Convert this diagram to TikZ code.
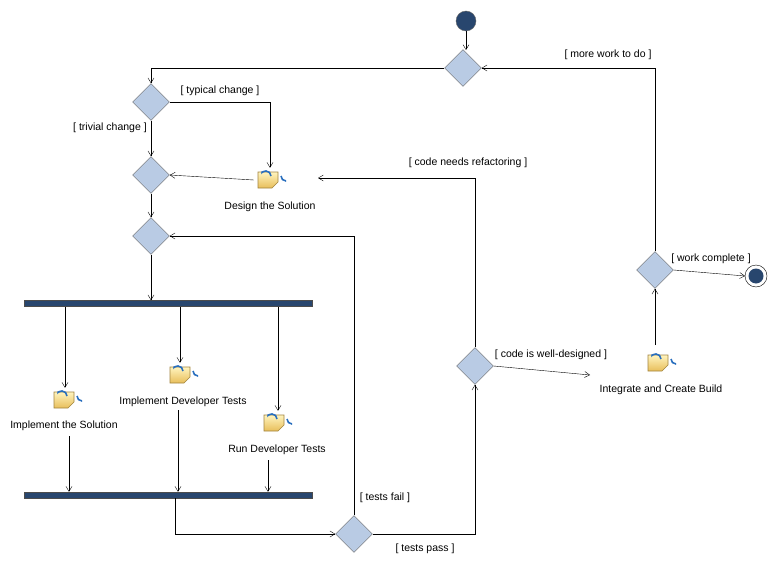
\documentclass[tikz,border=0pt]{standalone}
\usepackage{fontspec}
\setmainfont{Liberation Sans}
\usetikzlibrary{shapes.geometric,arrows.meta}
\definecolor{dfill}{RGB}{185,203,228}
\definecolor{dnavy}{RGB}{40,70,110}
\definecolor{iy1}{RGB}{255,244,190}
\definecolor{iy2}{RGB}{232,190,90}
\definecolor{iblue}{RGB}{40,110,190}
\begin{document}
\begin{tikzpicture}[x=1pt,y=-1pt,
  every node/.style={font=\fontsize{10.5}{12}\selectfont},
  arr/.style={draw=black,-{Straight Barb[length=5pt,width=6pt]}},
  dec/.style={diamond,draw=gray!80!black,fill=dfill,minimum width=37,minimum height=37,inner sep=0},
  bar/.style={rectangle,fill=dnavy,draw=black!70,minimum width=288,minimum height=6,inner sep=0},
  lbl/.style={inner sep=1pt},
  act/.style={minimum width=32,minimum height=24,inner sep=0,
    path picture={
      \coordinate (c) at (path picture bounding box.center);
      \shade[top color=iy1,bottom color=iy2,draw=iy2!70!black,line width=0.6]
        ([xshift=-12,yshift=8]c) -- ([xshift=-12,yshift=-8]c) -- ([xshift=2,yshift=-8]c)
        -- ([xshift=8,yshift=-2]c) -- ([xshift=8,yshift=8]c) -- cycle;
      \draw[iblue,line width=1.6,-{Stealth[length=3pt]}] ([xshift=11,yshift=4]c) arc[start angle=0,end angle=-160,radius=-5];
      \draw[iblue,line width=1.6,-{Stealth[length=3pt]}] ([xshift=1,yshift=4]c) arc[start angle=180,end angle=20,radius=-5];
    }}]
\useasboundingbox[fill=white] (0,0) rectangle (769,570);
% nodes
\node[circle,fill=dnavy,draw=black!60,minimum size=20,inner sep=0] (start) at (466,21) {};
\node[dec] (d1) at (463,68) {};
\node[dec] (d2) at (151,102) {};
\node[dec] (d3) at (151,175) {};
\node[dec] (d4) at (151,236) {};
\node[bar] (fork) at (168,303.5) {};
\node[bar] (join) at (168,495) {};
\node[act] (design) at (270,180) {};
\node (designl) at (270,207) {Design the Solution};
\node[act] (impl) at (66,400) {};
\node (impll) at (64,426) {Implement the Solution};
\node[act] (devt) at (182,375) {};
\node (devtl) at (183,402) {Implement Developer Tests};
\node[act] (runt) at (276,423) {};
\node (runtl) at (277,450) {Run Developer Tests};
\node[act] (integ) at (660,363) {};
\node (integl) at (661,390) {Integrate and Create Build};
\node[dec] (d5) at (354,534) {};
\node[dec] (d6) at (475,366) {};
\node[dec] (d7) at (655,270) {};
\node[circle,draw=black,fill=white,minimum size=22,inner sep=0] (end) at (756,276) {};
\node[circle,fill=dnavy,minimum size=15,inner sep=0] at (end) {};
\coordinate (endw) at (745,276);
% edges
\draw[arr] (start) -- (466,50);
\draw[arr] (d1.west) -| (d2.north);
\draw[arr] (d7.north) |- (d1.east);
\node[lbl] at (608,55) {[ more work to do ]};
\draw[arr] (d2.east) -| (design.north);
\node[lbl] at (220,91) {[ typical change ]};
\draw[arr] (d2) -- (d3);
\node[lbl] at (110,128) {[ trivial change ]};
\draw[arr] (design.west) -- (d3.east);
\draw[arr] (d3) -- (d4);
\draw[arr] (d4) -- (fork.north -| d4);
\draw[arr] (fork.south -| 65,0) -- (impl.north -| 65,0);
\draw[arr] (fork.south -| 180,0) -- (devt.north -| 180,0);
\draw[arr] (fork.south -| 278,0) -- (runt.north -| 278,0);
\draw[arr] (69,436) -- (join.north -| 69,0);
\draw[arr] (178,410) -- (join.north -| 178,0);
\draw[arr] (268,460) -- (join.north -| 268,0);
\draw[arr] (join.south -| 175,0) |- (d5.west);
\draw[arr] (d5.north) |- (d4.east);
\node[lbl] at (385,498) {[ tests fail ]};
\draw[arr] (d5.east) -| (d6.south);
\node[lbl] at (425,549) {[ tests pass ]};
\draw[arr] (d6.north) |- (318,178);
\node[lbl] at (468,163) {[ code needs refactoring ]};
\draw[arr] (d6.east) -- (590,375);
\node[lbl] at (551,355) {[ code is well-designed ]};
\draw[arr] (655,345) -- (d7.south);
\draw[arr] (d7.east) -- (endw);
\node[lbl] at (711,259) {[ work complete ]};
\end{tikzpicture}
\end{document}
